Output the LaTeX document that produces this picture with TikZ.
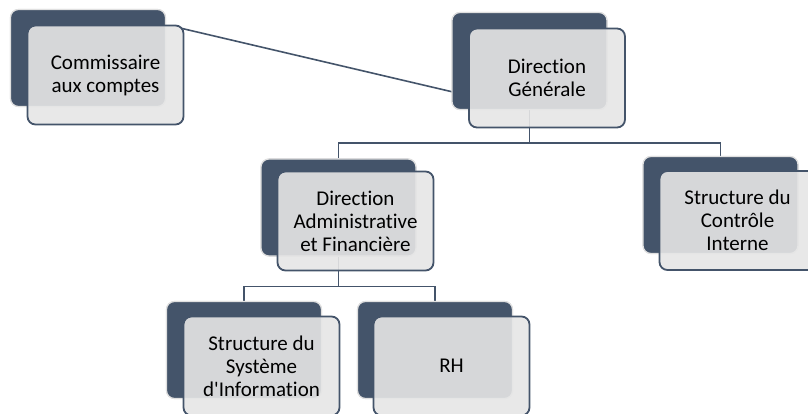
\documentclass[tikz,border=0pt]{standalone}
\usepackage{fontspec}
\setmainfont[Ligatures=NoCommon]{Carlito}
\usetikzlibrary{calc}
\definecolor{dkblue}{HTML}{44546A}
\definecolor{frontfill}{HTML}{E6E6E6}
\begin{document}
\begin{tikzpicture}[x=1pt,y=-1pt,
  backbox/.style={draw=black!12,line width=1.2pt,fill=dkblue,rounded corners=8pt,
    minimum width=155pt,minimum height=97pt,inner sep=0pt},
  frontbox/.style={draw=dkblue,line width=1.8pt,fill=frontfill,fill opacity=0.9,text opacity=1,
    rounded corners=8pt,minimum width=156pt,minimum height=99pt,inner sep=0pt,
    align=center,font=\fontsize{21}{23}\selectfont},
  conn/.style={draw=dkblue,line width=1.6pt}]
\useasboundingbox (0,0) rectangle (808,414);
\coordinate (lineA) at (180,28);
\coordinate (lineB) at (453,92);
% back boxes (positions), then connectors, then backs again over them
\node[backbox] (comb) at (88,58) {};
\node[backbox] (dgb) at (529.5,61) {};
\node[backbox] (dafb) at (338.5,207.5) {};
\node[backbox] (scib) at (720.5,205) {};
\node[backbox] (sib) at (244,350) {};
\node[backbox] (rhb) at (435,350) {};
\draw[conn] (lineA) -- (lineB);
\draw[conn] (dgb.south) -- ++(0,33) -| (dafb.north);
\draw[conn] (dgb.south) -- ++(0,33) -| (scib.north);
\draw[conn] (dafb.south) -- ++(0,30) -| (sib.north);
\draw[conn] (dafb.south) -- ++(0,30) -| (rhb.north);
\node[backbox] at (comb) {};
\node[backbox] at (dgb) {};
\node[backbox] at (dafb) {};
\node[backbox] at (scib) {};
\node[backbox] at (sib) {};
\node[backbox] at (rhb) {};
% front boxes
\node[frontbox] (comf) at (105.5,75) {Commissaire\\aux comptes};
\node[frontbox] (dgf) at (547,78) {Direction\\Générale};
\node[frontbox] (daff) at (355.5,221) {Direction\\Administrative\\et Financière};
\node[frontbox] (scif) at (737.5,220.5) {Structure du\\Contrôle\\Interne};
\node[frontbox] (sif) at (261.5,366) {Structure du\\Système\\d\textquotesingle Information};
\node[frontbox] (rhf) at (451.5,366) {RH};
\end{tikzpicture}
\end{document}
